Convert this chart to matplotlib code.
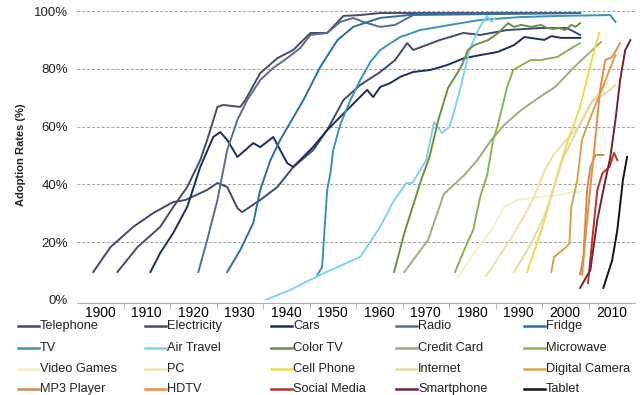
import numpy as np
import matplotlib.pyplot as plt
from matplotlib.lines import Line2D

# ------------------- DATA -------------------

names = ["Telephone", "Electricity", "Cars", "Radio", "Fridge",
         "TV", "Air Travel", "Color TV", "Credit Card", "Microwave",
         "Video Games", "PC", "Cell Phone", "Internet", "Digital Camera",
         "MP3 Player", "HDTV", "Social Media", "Smartphone", "Tablet"]

colors = ["#3d4c6e", "#4a4b68", "#1d2d5c", "#5a6d8e", "#2d6ea5",
          "#3a93b8", "#7fd2ee", "#6f9044", "#9cae7c", "#8cb154",
          "#f2f0c4", "#efe2a8", "#e9dc4e", "#e3d9a2", "#d2a548",
          "#c98f4e", "#ec8a4c", "#b5332e", "#74202e", "#1a1016"]

# pixel-read points converted to (year, percent)
telephone_x = [1898.5, 1902.2, 1907.1, 1911.4, 1915.7, 1918.3, 1923.0, 1925.2, 1927.3, 1929.5, 1930.5,
               1934.4, 1938.1, 1941.5, 1945.8, 1948.8, 1952.3, 1955.9, 1960.2, 1963.4, 1966.0, 1967.3,
               1973.1, 1978.1, 1981.7, 1987.5, 1994.6, 2000.4, 2003.2]
telephone_y = [9.7, 18.3, 25.3, 30.1, 33.9, 34.6, 38.1, 40.5, 39.1, 31.8, 30.4,
               34.6, 39.1, 46.0, 51.9, 58.8, 69.2, 74.4, 78.9, 83.0, 88.9, 86.5,
               90.0, 92.4, 91.7, 93.4, 94.1, 94.1, 91.7]

electricity_x = [1903.7, 1908.0, 1912.9, 1915.7, 1918.7, 1921.5, 1923.0, 1925.2, 1926.4, 1930.1, 1931.2,
                 1934.4, 1938.1, 1941.5, 1945.2, 1948.8, 1952.3, 1955.9, 1960.2, 2003.2]
electricity_y = [9.7, 18.3, 25.3, 32.2, 39.1, 48.4, 55.4, 66.8, 67.5, 66.8, 69.2,
                 78.5, 83.7, 86.5, 92.4, 92.4, 98.3, 98.6, 99.3, 99.3]

cars_x = [1910.8, 1912.9, 1915.7, 1918.7, 1921.5, 1924.3, 1925.8, 1927.3, 1929.5, 1932.9, 1934.4,
          1937.2, 1938.7, 1940.2, 1941.5, 1945.8, 1948.8, 1957.4, 1958.7, 1960.2, 1962.4, 1964.5,
          1967.3, 1971.0, 1974.6, 1978.3, 1981.9, 1985.4, 1989.0, 1991.2, 1995.5, 1997.0, 1999.1, 2003.2]
cars_y = [9.7, 16.3, 23.2, 32.2, 46.0, 56.4, 58.1, 55.4, 49.5, 54.3, 52.9,
          56.4, 51.9, 47.4, 46.0, 53.0, 58.8, 72.7, 70.2, 73.7, 75.1, 77.2,
          78.9, 79.6, 81.3, 83.7, 84.8, 85.8, 88.2, 91.0, 90.0, 91.3, 90.7, 90.7]

radio_x = [1921.1, 1923.0, 1925.2, 1927.3, 1929.5, 1931.6, 1934.4, 1937.2, 1940.2, 1943.0, 1945.2,
           1948.8, 1951.6, 1954.4, 1956.6, 1960.2, 1963.4, 1967.3, 2003.2]
radio_y = [9.7, 20.8, 34.6, 51.9, 62.3, 69.2, 76.1, 80.3, 83.7, 87.2, 91.7,
           92.4, 96.2, 97.6, 96.2, 94.5, 95.2, 98.6, 99.3]

fridge_x = [1927.3, 1930.1, 1932.9, 1934.4, 1936.6, 1938.7, 1943.7, 1947.3, 1951.0, 1954.4, 1958.1,
            1960.2, 1968.8, 2003.2]
fridge_y = [9.7, 17.3, 26.6, 38.1, 48.4, 55.4, 69.2, 80.6, 89.9, 94.5, 96.5,
            97.6, 99.0, 99.3]

tv_x = [1946.7, 1947.7, 1948.8, 1949.5, 1950.1, 1951.6, 1953.8, 1955.9, 1958.1, 1960.2, 1964.5,
        1968.8, 1975.3, 1981.7, 1990.3, 1998.9, 2009.7, 2010.8]
tv_y = [8.7, 11.4, 38.1, 43.9, 51.9, 60.6, 69.2, 76.1, 82.4, 86.5, 91.0,
        93.4, 95.2, 96.9, 97.9, 98.3, 98.6, 96.2]

air_x = [1935.5, 1940.9, 1947.3, 1955.9, 1960.2, 1963.0, 1965.8, 1967.1, 1970.1, 1971.8, 1973.5,
         1975.1, 1977.2, 1979.4, 1981.5, 1983.2, 1984.1, 1984.9]
air_y = [0.0, 3.5, 8.7, 14.9, 25.3, 34.0, 40.5, 40.5, 48.4, 61.6, 57.8,
         59.9, 71.6, 86.5, 94.1, 98.3, 96.2, 97.6]

colortv_x = [1963.2, 1965.4, 1969.0, 1970.8, 1972.7, 1974.8, 1977.6, 1979.1, 1980.4, 1983.4, 1985.6,
             1986.2, 1987.7, 1989.0, 1990.5, 1992.7, 1994.8, 1996.1, 1997.4, 1998.7, 2000.0, 2001.3,
             2002.2, 2003.2]
colortv_y = [9.7, 23.2, 41.5, 49.5, 62.3, 73.4, 80.6, 86.5, 88.2, 89.9, 92.4,
             93.4, 95.8, 94.5, 95.2, 94.5, 95.2, 94.1, 93.8, 94.1, 93.4, 95.2,
             94.5, 95.8]

credit_x = [1965.4, 1970.5, 1973.9, 1978.3, 1981.1, 1984.1, 1986.9, 1990.5, 1994.2, 1997.8, 2002.8, 2007.7]
credit_y = [9.7, 20.8, 36.7, 43.2, 48.4, 55.4, 60.6, 65.7, 69.9, 73.7, 82.0, 89.3]

micro_x = [1976.3, 1978.9, 1980.2, 1981.7, 1983.2, 1984.5, 1985.4, 1987.5, 1988.8, 1992.5, 1994.6,
           1998.3, 2001.7, 2003.2]
micro_y = [9.7, 19.7, 24.2, 35.6, 43.2, 55.4, 59.9, 73.7, 79.6, 83.0, 83.0,
           84.1, 87.5, 88.9]

video_x = [1976.8, 1980.4, 1984.1, 1986.9, 1989.7, 1994.0, 1998.3, 2003.4]
video_y = [7.6, 16.3, 24.2, 32.2, 34.6, 35.6, 36.3, 37.7]

pc_x = [1983.0, 1985.8, 1988.4, 1991.2, 1993.1, 1995.7, 1997.6, 2000.4, 2003.2, 2006.0, 2009.0]
pc_y = [8.3, 15.2, 21.5, 29.1, 35.0, 45.3, 50.5, 55.7, 60.6, 69.2, 75.1]

cell_x = [1991.8, 1995.1, 1996.3, 1998.7, 2000.4, 2003.2, 2005.3, 2007.3]
cell_y = [9.7, 25.3, 31.8, 45.7, 54.3, 66.8, 80.6, 92.4]

internet_x = [1989.0, 1992.7, 1995.5, 1997.4, 1999.4, 2001.5, 2003.6, 2005.6, 2008.8, 2010.8]
internet_y = [9.7, 19.7, 29.1, 38.1, 48.4, 55.4, 62.3, 68.5, 71.6, 74.4]

camera_x = [1997.0, 1997.6, 2000.2, 2000.9, 2001.3, 2002.6, 2003.6, 2005.2, 2008.0, 2010.8]
camera_y = [9.7, 14.9, 18.3, 19.7, 32.2, 41.5, 55.4, 62.3, 73.4, 84.8]

mp3_x = [2003.2, 2003.9, 2004.7, 2005.4, 2006.5, 2008.2]
mp3_y = [9.0, 14.9, 38.1, 46.0, 50.2, 50.2]

hdtv_x = [2003.6, 2004.7, 2006.0, 2007.5, 2008.6, 2010.1, 2011.8]
hdtv_y = [8.7, 27.7, 48.4, 72.7, 83.0, 84.1, 88.9]

social_x = [2004.9, 2005.8, 2006.9, 2008.0, 2009.5, 2010.5, 2011.2]
social_y = [5.9, 20.8, 38.1, 43.9, 46.0, 50.9, 48.4]

smart_x = [2003.2, 2005.4, 2006.9, 2008.2, 2009.7, 2010.8, 2011.8, 2012.9, 2014.0]
smart_y = [4.2, 10.4, 27.7, 38.1, 49.5, 62.3, 76.1, 86.5, 89.9]

tablet_x = [2008.2, 2010.1, 2011.2, 2012.4, 2013.3]
tablet_y = [4.2, 13.8, 24.2, 41.5, 49.5]

series_x = [telephone_x, electricity_x, cars_x, radio_x, fridge_x, tv_x, air_x, colortv_x,
            credit_x, micro_x, video_x, pc_x, cell_x, internet_x, camera_x, mp3_x, hdtv_x,
            social_x, smart_x, tablet_x]
series_y = [telephone_y, electricity_y, cars_y, radio_y, fridge_y, tv_y, air_y, colortv_y,
            credit_y, micro_y, video_y, pc_y, cell_y, internet_y, camera_y, mp3_y, hdtv_y,
            social_y, smart_y, tablet_y]

decades = list(range(1900, 2011, 10))
y_ticks = [0, 20, 40, 60, 80, 100]

# -------------------- PLOT ---------------------

plt.rcParams['font.family'] = ['Liberation Sans', 'DejaVu Sans']

fig = plt.figure(figsize=(6.4, 3.95), dpi=100)
ax = fig.add_axes([77 / 640, 1 - 300 / 395, (635 - 77) / 640, (300 - 11) / 395])

for xs, ys, c in zip(series_x, series_y, colors):
    ax.plot(xs, ys, color=c, lw=1.4, solid_joinstyle='round')

ax.set_xlim(1895, 2015)
ax.set_ylim(0, 100)

ax.set_yticks(y_ticks)
ax.set_yticklabels([f"{v}%" for v in y_ticks], fontsize=9.5, color="#222222")
ax.set_xticks(decades)
ax.set_xticklabels([str(d) for d in decades], fontsize=9.5, color="#222222")
ax.set_xticks(np.arange(1905, 2015, 10), minor=True)
ax.tick_params(axis='x', which='major', length=0, pad=2)
ax.tick_params(axis='x', which='minor', length=4, color="#b0b0b0", direction='out')
ax.tick_params(axis='y', length=0, pad=6.5)

for v in y_ticks[1:]:
    ax.axhline(v, color="#a0a0a0", lw=0.7, ls=(0, (3, 2)), zorder=0)

for s in ['top', 'right', 'left']:
    ax.spines[s].set_visible(False)
ax.spines['bottom'].set_color("#b0b0b0")
ax.spines['bottom'].set_position(('outward', 2))

fig.text(21 / 640, 1 - 155 / 395, "Adoption Rates (%)", rotation=90, fontsize=8,
         fontweight='bold', ha='center', va='center', color="#222222")

# legend, row by row like the original
col_x = [18, 145, 271, 396, 524]
row_y = [326, 348, 369, 389]
for i, (name, c) in enumerate(zip(names, colors)):
    x0 = col_x[i % 5]
    y0 = row_y[i // 5]
    fig.add_artist(Line2D([x0 / 640, (x0 + 21) / 640], [1 - y0 / 395, 1 - y0 / 395],
                          color=c, lw=1.8, transform=fig.transFigure))
    fig.text((x0 + 22) / 640, 1 - y0 / 395, name, fontsize=9.2, va='center', ha='left',
             color="#222222")

fig.savefig("out.png", dpi=100)
